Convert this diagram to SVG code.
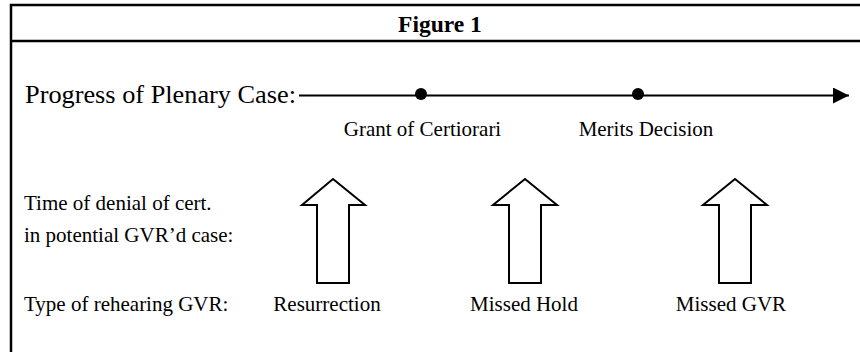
<svg xmlns="http://www.w3.org/2000/svg" width="860" height="352" viewBox="0 0 860 352">
<defs>
<style>
.t{font-family:"Liberation Serif","Times New Roman",serif;fill:#000}
.s{font-size:21px}
.frame{stroke:#000;stroke-width:2.5;fill:none}
.arr{fill:#fff;stroke:#000;stroke-width:2}
</style>
<marker id="ah" viewBox="0 0 16 16" refX="16" refY="8" markerWidth="16" markerHeight="16" markerUnits="userSpaceOnUse" orient="auto">
<path d="M0,0 L16,8 L0,16 Z" fill="#000"/>
</marker>
</defs>
<rect width="860" height="352" fill="#fff"/>
<g id="frame">
<path class="frame" d="M11,352 V5 H862 M11,41 H862"/>
<text class="t" x="440" y="32" font-size="23.5" font-weight="bold" text-anchor="middle">Figure 1</text>
</g>
<g id="labels">
<text class="t" x="25" y="103" font-size="26" textLength="271" lengthAdjust="spacingAndGlyphs">Progress of Plenary Case:</text>
<text class="t s" x="24" y="210">Time of denial of cert.</text>
<text class="t s" x="24" y="242">in potential GVR’d case:</text>
<text class="t s" x="24" y="311">Type of rehearing GVR:</text>
</g>
<g id="connectors">
<line x1="299" y1="95.5" x2="849" y2="95.5" stroke="#000" stroke-width="2" marker-end="url(#ah)"/>
</g>
<g id="grant">
<circle cx="421" cy="94" r="6" fill="#000"/>
<text class="t s" x="422.5" y="135.5" text-anchor="middle">Grant of Certiorari</text>
</g>
<g id="merits">
<circle cx="638" cy="94" r="6" fill="#000"/>
<text class="t s" x="646" y="135.5" text-anchor="middle">Merits Decision</text>
</g>
<g id="resurrection">
<path class="arr" d="M333,179 L365,205 L349,205 L349,283 L317,283 L317,205 L302,205 Z"/>
<text class="t s" x="327" y="311" text-anchor="middle">Resurrection</text>
</g>
<g id="missed-hold">
<path class="arr" d="M525,179 L557,205 L541,205 L541,283 L509,283 L509,205 L493,205 Z"/>
<text class="t s" x="524" y="311" text-anchor="middle">Missed Hold</text>
</g>
<g id="missed-gvr">
<path class="arr" d="M735,179 L767,205 L751,205 L751,283 L719,283 L719,205 L703,205 Z"/>
<text class="t s" x="731" y="311" text-anchor="middle">Missed GVR</text>
</g>
</svg>
